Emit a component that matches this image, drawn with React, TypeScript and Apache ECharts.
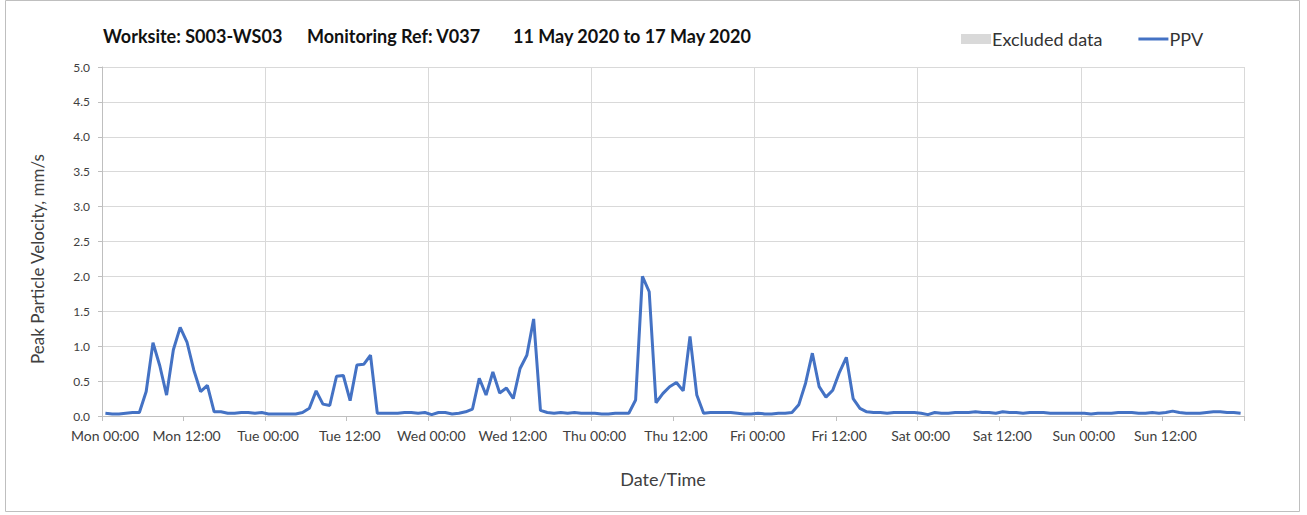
import React, { useEffect, useRef } from "react";
import * as echarts from "echarts";

// Hourly PPV readings (mm/s), one value per hour, plotted at hh:30
const monPPV = [0.04, 0.03, 0.03, 0.04, 0.05, 0.05, 0.35, 1.05, 0.72, 0.30, 0.95, 1.27, 1.06, 0.66, 0.35, 0.44, 0.06, 0.06, 0.04, 0.04, 0.05, 0.05, 0.04, 0.05];
const tuePPV = [0.03, 0.03, 0.03, 0.03, 0.03, 0.05, 0.11, 0.36, 0.17, 0.15, 0.57, 0.58, 0.22, 0.73, 0.74, 0.87, 0.04, 0.04, 0.04, 0.04, 0.05, 0.05, 0.04, 0.05];
const wedPPV = [0.02, 0.05, 0.05, 0.03, 0.04, 0.06, 0.10, 0.54, 0.30, 0.63, 0.33, 0.40, 0.25, 0.68, 0.87, 1.39, 0.08, 0.05, 0.04, 0.05, 0.04, 0.05, 0.04, 0.04];
const thuPPV = [0.04, 0.03, 0.03, 0.04, 0.04, 0.04, 0.23, 2.00, 1.78, 0.19, 0.32, 0.42, 0.48, 0.36, 1.14, 0.30, 0.04, 0.05, 0.05, 0.05, 0.05, 0.04, 0.03, 0.03];
const friPPV = [0.04, 0.03, 0.03, 0.04, 0.04, 0.05, 0.16, 0.47, 0.90, 0.42, 0.27, 0.37, 0.63, 0.84, 0.25, 0.11, 0.06, 0.05, 0.05, 0.04, 0.05, 0.05, 0.05, 0.05];
const satPPV = [0.04, 0.02, 0.05, 0.04, 0.04, 0.05, 0.05, 0.05, 0.06, 0.05, 0.05, 0.04, 0.06, 0.05, 0.05, 0.04, 0.05, 0.05, 0.05, 0.04, 0.04, 0.04, 0.04, 0.04];
const sunPPV = [0.04, 0.03, 0.04, 0.04, 0.04, 0.05, 0.05, 0.05, 0.04, 0.04, 0.05, 0.04, 0.05, 0.07, 0.05, 0.04, 0.04, 0.04, 0.05, 0.06, 0.06, 0.05, 0.05, 0.04];

const tickLabels = [
  "Mon 00:00", "Mon 12:00", "Tue 00:00", "Tue 12:00", "Wed 00:00", "Wed 12:00",
  "Thu 00:00", "Thu 12:00", "Fri 00:00", "Fri 12:00", "Sat 00:00", "Sat 12:00",
  "Sun 00:00", "Sun 12:00",
];

const titleParts = ["Worksite: S003-WS03", "Monitoring Ref: V037", "11 May 2020 to 17 May 2020"];
const yAxisName = "Peak Particle Velocity, mm/s";
const xAxisName = "Date/Time";

const FONT = "Lato, 'Open Sans', sans-serif";

export default function App() {
  const ref = useRef<HTMLDivElement>(null);
  useEffect(() => {
    if (!ref.current) return;
    const chart = echarts.init(ref.current, null, { renderer: "svg" });
    const all = [...monPPV, ...tuePPV, ...wedPPV, ...thuPPV, ...friPPV, ...satPPV, ...sunPPV];
    const data = all.map((v, i) => [i + 0.5, v]);
    chart.setOption({
      animation: false,
      backgroundColor: "#fff",
      textStyle: { fontFamily: FONT },
      grid: { left: 102, right: 63, top: 67, bottom: 99, containLabel: false },
      legend: {
        left: 956,
        top: 25,
        itemWidth: 30,
        itemHeight: 10,
        itemGap: 36,
        textStyle: { fontSize: 18, color: "#333", fontFamily: FONT, padding: [0, 0, 0, -4] },
        data: [
          { name: "Excluded data", icon: "rect" },
          { name: "PPV", icon: "path://M0 0 H30 V3 H0 Z" },
        ],
      },
      xAxis: [
        {
          type: "value",
          min: 0,
          max: 168,
          interval: 12,
          axisLine: { show: true, lineStyle: { color: "#bfbfbf", width: 1 } },
          axisTick: { show: true, length: 5, lineStyle: { color: "#bfbfbf" } },
          axisLabel: {
            fontSize: 14,
            color: "#404040",
            margin: 12,
            fontFamily: FONT,
            padding: [0, 0, 0, 6],
            formatter: (v: number) => {
              const idx = Math.round(v / 12);
              return idx < tickLabels.length ? tickLabels[idx] : "";
            },
          },
          splitLine: { show: false },
        },
        {
          type: "value",
          min: 0,
          max: 168,
          interval: 24,
          position: "bottom",
          axisLine: { show: false },
          axisTick: { show: false },
          axisLabel: { show: false },
          splitLine: { show: true, lineStyle: { color: "#d9d9d9", width: 1 } },
        },
      ],
      yAxis: {
        type: "value",
        min: 0,
        max: 5,
        interval: 0.5,
        axisLine: { show: true, lineStyle: { color: "#bfbfbf" } },
        axisTick: { show: true, length: 4, lineStyle: { color: "#bfbfbf" } },
        axisLabel: {
          fontSize: 12,
          color: "#404040",
          margin: 12,
          fontFamily: FONT,
          formatter: (v: number) => v.toFixed(1),
        },
        splitLine: { show: true, lineStyle: { color: "#d9d9d9", width: 1 } },
      },
      series: [
        {
          name: "Excluded data",
          type: "bar",
          data: [],
          itemStyle: { color: "#d9d9d9" },
        },
        {
          name: "PPV",
          type: "line",
          data,
          showSymbol: false,
          symbol: "none",
          lineStyle: { color: "#4472c4", width: 3 },
          itemStyle: { color: "#4472c4" },
          z: 5,
        },
      ],
      graphic: [
        {
          type: "rect",
          shape: { x: 5.5, y: 0.5, width: 1294, height: 511 },
          style: { fill: "none", stroke: "#bfbfbf", lineWidth: 1 },
          silent: true,
        },
        {
          type: "text",
          x: 103,
          y: 36,
          style: { text: titleParts[0], font: `bold 18px ${FONT}`, fill: "#111", textVerticalAlign: "middle" },
        },
        {
          type: "text",
          x: 307,
          y: 36,
          style: { text: titleParts[1], font: `bold 18px ${FONT}`, fill: "#111", textVerticalAlign: "middle" },
        },
        {
          type: "text",
          x: 513,
          y: 36,
          style: { text: titleParts[2], font: `bold 18px ${FONT}`, fill: "#111", textVerticalAlign: "middle" },
        },
        {
          type: "text",
          x: 37,
          y: 259,
          rotation: Math.PI / 2,
          style: { text: yAxisName, font: `17px ${FONT}`, fill: "#404040", textAlign: "center", textVerticalAlign: "middle" },
        },
        {
          type: "text",
          x: 663,
          y: 479,
          style: { text: xAxisName, font: `18px ${FONT}`, fill: "#404040", textAlign: "center", textVerticalAlign: "middle" },
        },
      ],
    });
    return () => chart.dispose();
  }, []);
  return <div ref={ref} style={{ width: 1307, height: 515, position: "absolute", left: 0, top: 0 }} />;
}
